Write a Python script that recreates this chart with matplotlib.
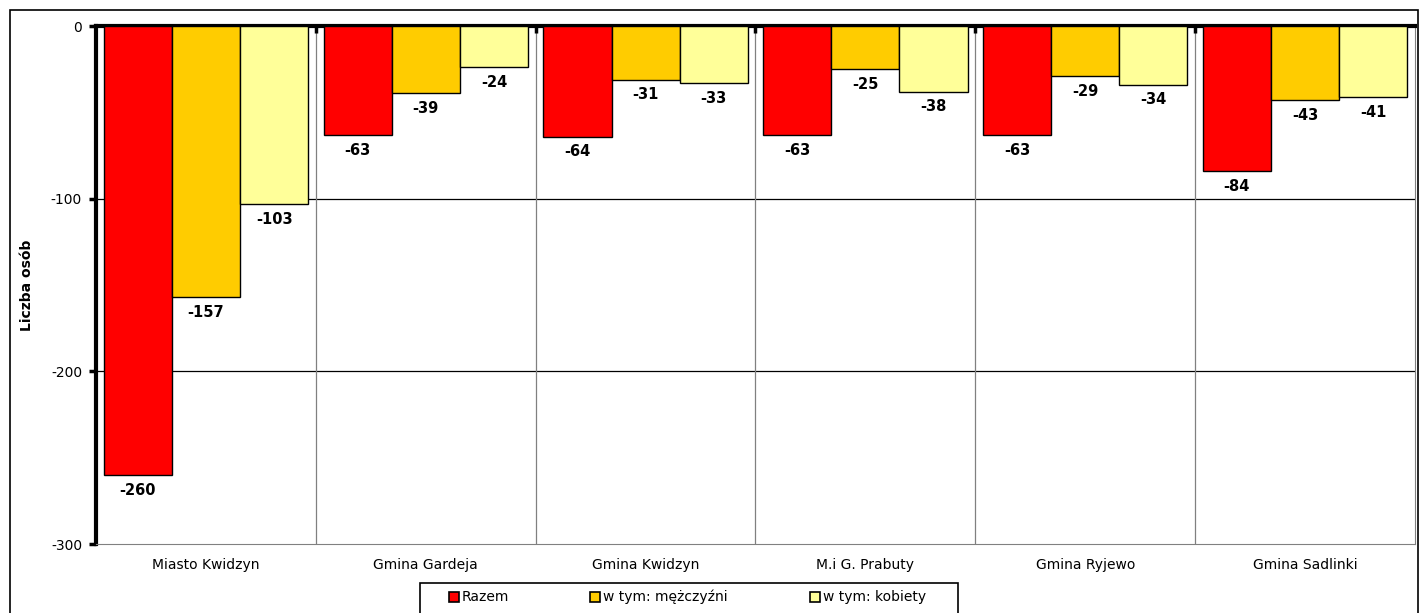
import numpy as np
import matplotlib.pyplot as plt
from matplotlib.patches import Rectangle
from matplotlib.lines import Line2D

plt.rcParams['font.family'] = ['DejaVu Sans']

# Data
categories = ['Miasto Kwidzyn', 'Gmina Gardeja', 'Gmina Kwidzyn', 'M.i G. Prabuty',
              'Gmina Ryjewo', 'Gmina Sadlinki']
razem = [-260, -63, -64, -63, -63, -84]
mezczyzni = [-157, -39, -31, -25, -29, -43]
kobiety = [-103, -24, -33, -38, -34, -41]
series_names = ['Razem', 'w tym: mężczyźni', 'w tym: kobiety']
colors = ['#ff0000', '#ffcc00', '#ffff99']
yticks = [0, -100, -200, -300]

W, H = 1421, 613
fig = plt.figure(figsize=(W / 100, H / 100), dpi=100)
ax = fig.add_axes([96 / W, 1 - 544 / H, 1319 / W, 518 / H])

# Outer chart frame
fig.patches.append(Rectangle((10 / W, -0.1), 1408 / W, 1.1 - 10 / H,
                             transform=fig.transFigure, fill=False,
                             edgecolor='black', linewidth=1.2, zorder=0))

x = np.arange(len(categories))
width = 0.31
offsets = [-width, 0, width]
all_series = [razem, mezczyzni, kobiety]

for vals, off, col, name in zip(all_series, offsets, colors, series_names):
    bars = ax.bar(x + off, vals, width=width, color=col, edgecolor='black',
                  linewidth=1.0, label=name, zorder=3)
    for b, v in zip(bars, vals):
        ax.annotate(f'{v}', (b.get_x() + b.get_width() / 2, v),
                    xytext=(0, -11), textcoords='offset points',
                    ha='center', va='center', fontsize=10.5, fontweight='bold')

ax.set_xlim(-0.5, len(categories) - 0.5)
ax.set_ylim(-300, 0)

# Gridlines
for yv in [-100, -200]:
    ax.axhline(yv, color='black', linewidth=0.9, zorder=1)
for xv in np.arange(0.5, len(categories) - 0.5, 1):
    ax.axvline(xv, color='#808080', linewidth=0.9, zorder=1)

ax.set_yticks(yticks)
ax.set_yticklabels([str(t) for t in yticks], fontsize=10)
ax.tick_params(axis='y', direction='out', length=5, width=2.5, pad=5)

ax.set_xticks(x)
ax.set_xticklabels(categories, fontsize=10)
ax.tick_params(axis='x', length=0, pad=10)
ax.set_xticks(np.arange(0.5, len(categories) - 0.5, 1), minor=True)
ax.tick_params(axis='x', which='minor', direction='in', length=5, width=2.5,
               top=True, bottom=False)

ax.spines['top'].set_linewidth(3)
ax.spines['top'].set_color('black')
ax.spines['left'].set_linewidth(3)
ax.spines['left'].set_color('black')
ax.spines['bottom'].set_color('#808080')
ax.spines['right'].set_color('#808080')

ax.set_ylabel('Liczba osób', fontsize=10, fontweight='bold')
ax.yaxis.set_label_coords((34 - 96) / 1319, 0.5)

# Legend (drawn by hand to match the box layout)
fig.patches.append(Rectangle((420 / W, -0.1), 538 / W, 0.1 + 1 - 583 / H,
                             transform=fig.transFigure, fill=True,
                             facecolor='white', edgecolor='black',
                             linewidth=1.2, zorder=5))
marker_x = [454, 595, 815]
leg_y = 1 - 597 / H
for mx, col, name in zip(marker_x, colors, series_names):
    fig.add_artist(Line2D([mx / W], [leg_y], marker='s', linestyle='none',
                          markersize=7.5, markerfacecolor=col,
                          markeredgecolor='black', markeredgewidth=1.2,
                          transform=fig.transFigure, zorder=6))
    fig.text((mx + 8) / W, leg_y, name, fontsize=10, ha='left', va='center',
             zorder=6)

fig.savefig('out.png', dpi=100)
